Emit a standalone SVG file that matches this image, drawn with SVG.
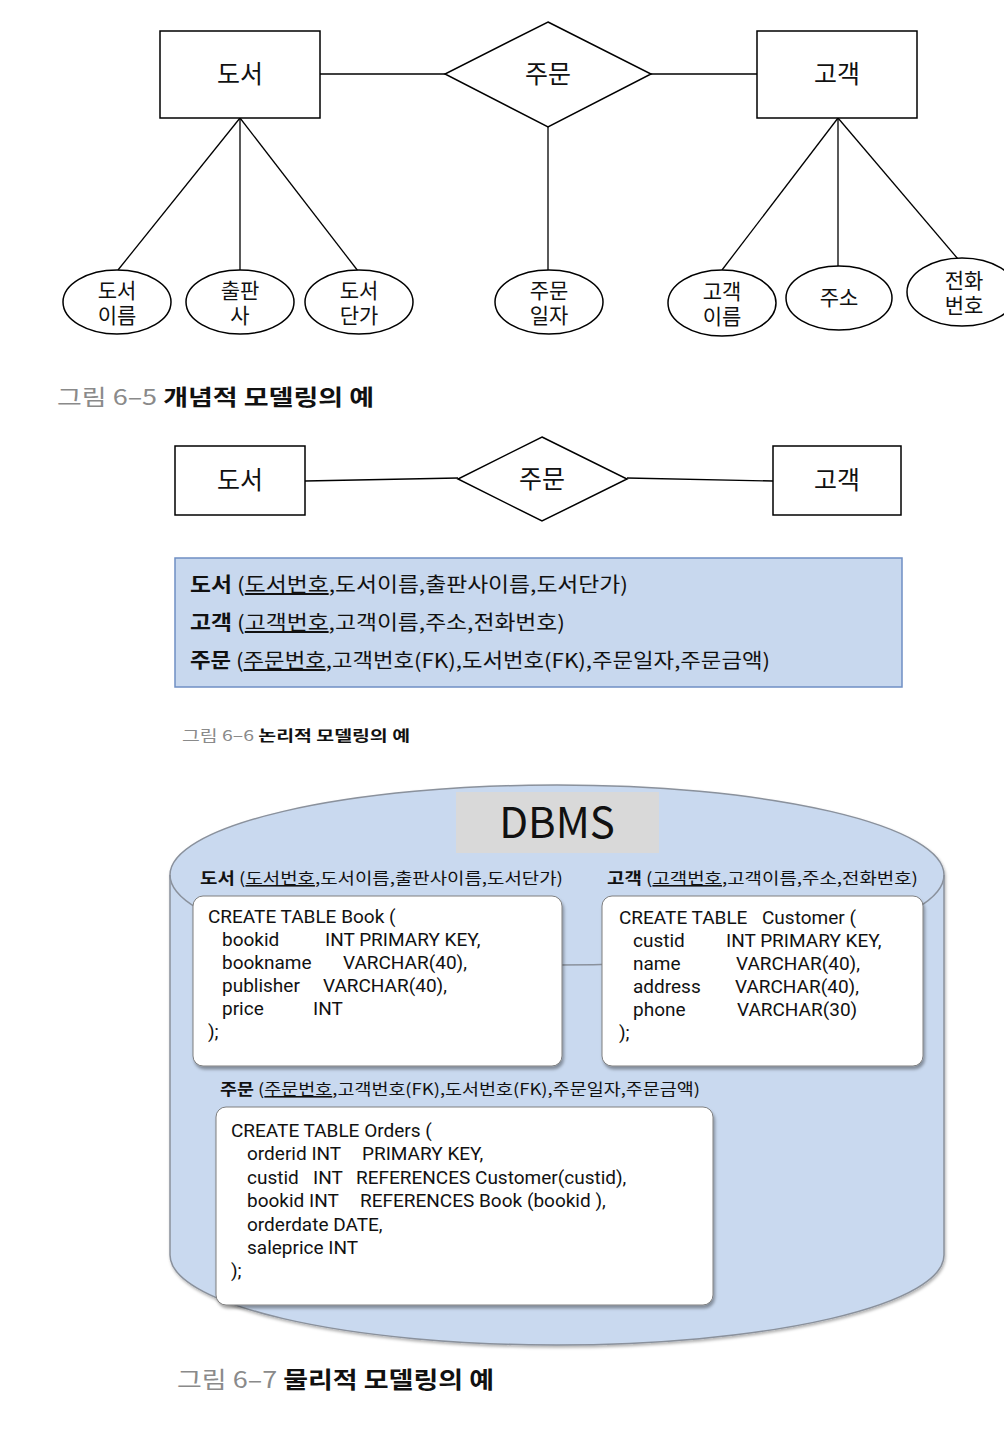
<svg xmlns="http://www.w3.org/2000/svg" width="1004" height="1446" viewBox="0 0 1004 1446">
<style>
text{font-family:"Noto Sans CJK KR","Noto Sans",sans-serif;fill:#111}
.ent{fill:#fff;stroke:#000;stroke-width:1.5}
.att{fill:#fff;stroke:#000;stroke-width:1.5}
.ln{stroke:#000;stroke-width:1.3;fill:none}
.big{font-size:25px;text-anchor:middle}
.at{font-size:21px;text-anchor:middle}
.gray{fill:#8a8a8a}
.b{font-weight:bold}
.code{font-family:Roboto,"Liberation Sans",sans-serif;font-size:19px;fill:#111}
.lbl{font-size:16px}
.lg{font-size:20px}
.card{fill:#fff;stroke:#7f7f7f;stroke-width:1}
</style>
<defs>
<filter id="sh" x="-10%" y="-10%" width="120%" height="130%">
<feDropShadow dx="1.5" dy="3" stdDeviation="1.8" flood-color="#000" flood-opacity="0.35"/>
</filter>
<filter id="sh2" x="-5%" y="-5%" width="110%" height="115%">
<feDropShadow dx="1" dy="2" stdDeviation="1.5" flood-color="#000" flood-opacity="0.3"/>
</filter>
</defs>

<!-- ===== Figure 6-5 ===== -->
<g id="connectors-65">
<line class="ln" x1="320" y1="74" x2="445" y2="74"/>
<line class="ln" x1="651" y1="74" x2="757" y2="74"/>
<line class="ln" x1="240" y1="118" x2="118" y2="270"/>
<line class="ln" x1="240" y1="118" x2="240" y2="270"/>
<line class="ln" x1="240" y1="118" x2="358" y2="271"/>
<line class="ln" x1="548" y1="127" x2="548" y2="270"/>
<line class="ln" x1="838" y1="118" x2="722" y2="270"/>
<line class="ln" x1="838" y1="118" x2="838" y2="266"/>
<line class="ln" x1="838" y1="118" x2="958" y2="259"/>
</g>
<g id="e-book1"><rect class="ent" x="160" y="31" width="160" height="87"/><text class="big" x="240" y="83">도서</text></g>
<g id="r-order1"><polygon class="ent" points="548,22 651,74 548,127 445,74"/><text class="big" x="548" y="83">주문</text></g>
<g id="e-cust1"><rect class="ent" x="757" y="31" width="160" height="87"/><text class="big" x="837" y="83">고객</text></g>
<g id="a-bookname"><ellipse class="att" cx="117" cy="302" rx="54" ry="32"/><text class="at"><tspan x="117" y="298">도서</tspan><tspan x="117" y="323">이름</tspan></text></g>
<g id="a-publisher"><ellipse class="att" cx="240" cy="302" rx="54" ry="32"/><text class="at"><tspan x="240" y="298">출판</tspan><tspan x="240" y="323">사</tspan></text></g>
<g id="a-price"><ellipse class="att" cx="359" cy="302" rx="54" ry="32"/><text class="at"><tspan x="359" y="298">도서</tspan><tspan x="359" y="323">단가</tspan></text></g>
<g id="a-orderdate"><ellipse class="att" cx="549" cy="302" rx="54" ry="32"/><text class="at"><tspan x="549" y="298">주문</tspan><tspan x="549" y="323">일자</tspan></text></g>
<g id="a-custname"><ellipse class="att" cx="722" cy="303" rx="54" ry="33"/><text class="at"><tspan x="722" y="299">고객</tspan><tspan x="722" y="324">이름</tspan></text></g>
<g id="a-address"><ellipse class="att" cx="839" cy="298" rx="53" ry="32"/><text class="at" x="839" y="305">주소</text></g>
<g id="a-phone"><ellipse class="att" cx="962" cy="292" rx="55" ry="34"/><text class="at"><tspan x="964" y="288">전화</tspan><tspan x="964" y="313">번호</tspan></text></g>
<text x="57" y="405" font-size="22" textLength="317" lengthAdjust="spacingAndGlyphs"><tspan class="gray">그림 6–5 </tspan><tspan class="b">개념적 모델링의 예</tspan></text>

<!-- ===== Figure 6-6 ===== -->
<g id="connectors-66">
<line class="ln" x1="305" y1="481" x2="458" y2="478"/>
<line class="ln" x1="627" y1="478" x2="773" y2="481"/>
</g>
<g id="e-book2"><rect class="ent" x="175" y="446" width="130" height="69"/><text class="big" x="240" y="489">도서</text></g>
<g id="r-order2"><polygon class="ent" points="542,437 627,479 542,521 458,479"/><text class="big" x="542" y="488">주문</text></g>
<g id="e-cust2"><rect class="ent" x="773" y="446" width="128" height="69"/><text class="big" x="837" y="489">고객</text></g>
<g id="logical">
<rect x="175" y="558" width="727" height="129" fill="#c8d8ee" stroke="#6f8fc4" stroke-width="1.5"/>
<text class="lg" x="190" y="592" textLength="438" lengthAdjust="spacingAndGlyphs"><tspan class="b">도서</tspan> (<tspan text-decoration="underline">도서번호</tspan>,도서이름,출판사이름,도서단가)</text>
<text class="lg" x="190" y="630" textLength="375" lengthAdjust="spacingAndGlyphs"><tspan class="b">고객</tspan> (<tspan text-decoration="underline">고객번호</tspan>,고객이름,주소,전화번호)</text>
<text class="lg" x="190" y="668" textLength="580" lengthAdjust="spacingAndGlyphs"><tspan class="b">주문</tspan> (<tspan text-decoration="underline">주문번호</tspan>,고객번호(FK),도서번호(FK),주문일자,주문금액)</text>
</g>
<text x="182" y="741" font-size="15" textLength="228" lengthAdjust="spacingAndGlyphs"><tspan class="gray">그림 6–6 </tspan><tspan class="b">논리적 모델링의 예</tspan></text>

<!-- ===== Figure 6-7 ===== -->
<g id="dbms">
<path d="M170,875 A387,90 0 0 1 944,875 L944,1255 A387,90 0 0 1 170,1255 Z" fill="#c9d9ef" stroke="#8a919c" stroke-width="1.5" filter="url(#sh2)"/>
<path d="M170,875 A387,90 0 0 0 944,875" fill="none" stroke="#8a919c" stroke-width="1.5"/>
<rect x="456" y="792" width="203" height="61" fill="#d9d9d9"/>
<text x="557" y="838" font-size="42" text-anchor="middle" font-family="Noto Sans,sans-serif">DBMS</text>
</g>
<text class="lbl" x="200" y="884" textLength="363" lengthAdjust="spacingAndGlyphs"><tspan class="b">도서</tspan> (<tspan text-decoration="underline">도서번호</tspan>,도서이름,출판사이름,도서단가)</text>
<text class="lbl" x="607" y="884" textLength="311" lengthAdjust="spacingAndGlyphs"><tspan class="b">고객</tspan> (<tspan text-decoration="underline">고객번호</tspan>,고객이름,주소,전화번호)</text>
<g id="t-book">
<rect class="card" x="193" y="896" width="369" height="170" rx="10" filter="url(#sh)"/>
<text class="code" x="208" y="923">CREATE TABLE Book (</text>
<text class="code" x="222" y="946">bookid</text><text class="code" x="325" y="946">INT PRIMARY KEY,</text>
<text class="code" x="222" y="969">bookname</text><text class="code" x="343" y="969">VARCHAR(40),</text>
<text class="code" x="222" y="992">publisher</text><text class="code" x="323" y="992">VARCHAR(40),</text>
<text class="code" x="222" y="1015">price</text><text class="code" x="313" y="1015">INT</text>
<text class="code" x="208" y="1038">);</text>
</g>
<g id="t-customer">
<rect class="card" x="602" y="896" width="321" height="170" rx="10" filter="url(#sh)"/>
<text class="code" x="619" y="924">CREATE TABLE</text><text class="code" x="762" y="924">Customer (</text>
<text class="code" x="633" y="947">custid</text><text class="code" x="726" y="947">INT PRIMARY KEY,</text>
<text class="code" x="633" y="970">name</text><text class="code" x="736" y="970">VARCHAR(40),</text>
<text class="code" x="633" y="993">address</text><text class="code" x="735" y="993">VARCHAR(40),</text>
<text class="code" x="633" y="1016">phone</text><text class="code" x="737" y="1016">VARCHAR(30)</text>
<text class="code" x="619" y="1039">);</text>
</g>
<text class="lbl" x="220" y="1095" textLength="480" lengthAdjust="spacingAndGlyphs"><tspan class="b">주문</tspan> (<tspan text-decoration="underline">주문번호</tspan>,고객번호(FK),도서번호(FK),주문일자,주문금액)</text>
<g id="t-orders">
<rect class="card" x="216" y="1107" width="497" height="198" rx="10" filter="url(#sh)"/>
<text class="code" x="231" y="1137">CREATE TABLE Orders (</text>
<text class="code" x="247" y="1160">orderid INT</text><text class="code" x="362" y="1160">PRIMARY KEY,</text>
<text class="code" x="247" y="1184">custid</text><text class="code" x="313" y="1184">INT</text><text class="code" x="356" y="1184">REFERENCES Customer(custid),</text>
<text class="code" x="247" y="1207">bookid INT</text><text class="code" x="360" y="1207">REFERENCES Book (bookid ),</text>
<text class="code" x="247" y="1231">orderdate DATE,</text>
<text class="code" x="247" y="1254">saleprice INT</text>
<text class="code" x="231" y="1277">);</text>
</g>
<text x="177" y="1388" font-size="23" textLength="317" lengthAdjust="spacingAndGlyphs"><tspan class="gray">그림 6–7 </tspan><tspan class="b">물리적 모델링의 예</tspan></text>
</svg>
